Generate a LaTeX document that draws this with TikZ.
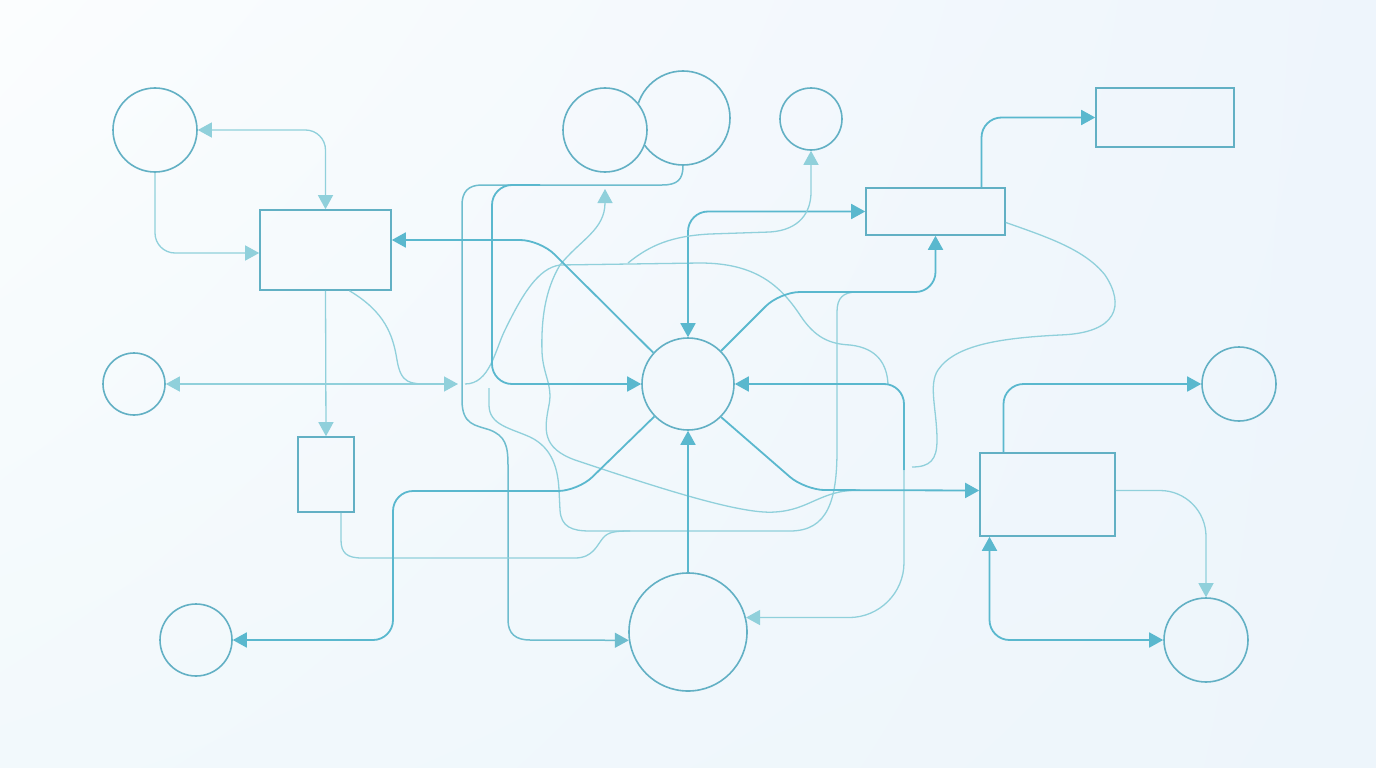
\documentclass[tikz,border=0pt]{standalone}
\usetikzlibrary{arrows.meta,shadings}
\definecolor{bgA}{RGB}{251,253,254}
\definecolor{bgB}{RGB}{238,245,252}
\definecolor{bgC}{RGB}{242,249,252}
\definecolor{bgD}{RGB}{237,245,251}
\definecolor{ringc}{RGB}{98,176,196}
\definecolor{darkc}{RGB}{90,184,206}
\definecolor{midc}{RGB}{110,189,206}
\definecolor{lightc}{RGB}{144,208,219}
\tikzset{>={Triangle[length=14pt,width=15pt]},
  ring/.style={circle,draw=ringc,line width=1.6pt,inner sep=0pt},
  box/.style={rectangle,draw=ringc,line width=1.6pt,inner sep=0pt},
  dk/.style={draw=darkc,line width=1.8pt},
  md/.style={draw=midc,line width=1.5pt},
  lt/.style={draw=lightc,line width=1.3pt}}
\begin{document}
\begin{tikzpicture}[x=1pt,y=-1pt]
\shade[upper left=bgA,upper right=bgB,lower left=bgC,lower right=bgD] (0,0) rectangle (1376,768);
\node[ring,minimum size=84pt] (a) at (155,130) {};
\node[ring,minimum size=84pt] (b) at (605,130) {};
\begin{scope}[even odd rule]
\clip (0,0) rectangle (1376,768) (605,130) circle[radius=43];
\node[ring,minimum size=94pt] (bb) at (683,118) {};
\end{scope}
\node[ring,minimum size=62pt] (c) at (811,119) {};
\node[ring,minimum size=62pt] (d) at (134,384) {};
\node[ring,minimum size=92pt] (hub) at (688,384) {};
\node[ring,minimum size=72pt] (e) at (196,640) {};
\node[ring,minimum size=118pt] (f) at (688,632) {};
\node[ring,minimum size=74pt] (g) at (1239,384) {};
\node[ring,minimum size=84pt] (h) at (1206,640) {};
\node[box,minimum width=131pt,minimum height=80pt] (r1) at (325.5,250) {};
\node[box,minimum width=56pt,minimum height=75pt] (r2) at (326,474.5) {};
\node[box,minimum width=139pt,minimum height=47pt] (r3) at (935.5,211.5) {};
\node[box,minimum width=138pt,minimum height=59pt] (r4) at (1165,117.5) {};
\node[box,minimum width=135pt,minimum height=83pt] (r5) at (1047.5,494.5) {};
\coordinate (j1) at (458,384);
\coordinate (j2) at (465,384);
\coordinate (x1) at (560,265);
\coordinate (x2) at (628,263);
\coordinate (t1) at (605,189);
\coordinate (k1) at (540,185);
\coordinate (s1) at (489,388);
\coordinate (q1) at (912,467);
\coordinate (q2) at (904,470);
\draw[lt,<->,rounded corners=20pt] (a.east) -| (r1.north);
\draw[lt,->,rounded corners=20pt] (a.south) |- ([yshift=-3pt]r1.west);
\draw[lt,->] (r1.south) -- (r2.north);
\draw[lt,<->] (d.east) -- (j1);
\draw[lt] ([xshift=24pt]r1.south) .. controls (385,312) and (393,335) .. (397,360) .. controls (401,384) and (410,384) .. (430,384);
\draw[lt] (j2) .. controls (490,384) and (495,350) .. (505,330) .. controls (522,295) and (538,268) .. (x1) -- (700,263) .. controls (755,263) and (780,285) .. (800,315) .. controls (815,338) and (830,344) .. (850,345) .. controls (878,348) and (887,365) .. (888,384);
\draw[lt,<-] (t1) .. controls (605,230) and (580,240) .. (x1) .. controls (545,290) and (541,320) .. (542,352) .. controls (543,375) and (553,385) .. (549,405) .. controls (544,430) and (542,448) .. (575,460) .. controls (650,485) and (740,515) .. (775,512) .. controls (810,510) and (820,490) .. (860,490);
\draw[md,->] (bb.south) .. controls (683,180) and (677,185) .. (662,185) -- (482,185) .. controls (468,185) and (462,192) .. (462,205) -- (462,400) .. controls (462,425) and (475,425) .. (490,430) .. controls (505,436) and (508,445) .. (508,465) -- (508,620) .. controls (508,634) and (516,640) .. (530,640) -- (f.188);
\draw[dk,->,rounded corners=20pt] (k1) -| (492,384) -- (hub.west);
\draw[lt] (s1) -- (489,405) .. controls (489,425) and (510,428) .. (530,437) .. controls (553,448) and (558,470) .. (559,490) -- (560,510) .. controls (561,527) and (572,531) .. (590,531) -- (790,531) .. controls (828,531) and (837,500) .. (837,450) -- (837,312) .. controls (837,298) and (843,292) .. (857,292);
\draw[lt] ([xshift=15pt]r2.south) -- (341,540) .. controls (341,553) and (347,558) .. (362,558) -- (575,558) .. controls (593,558) and (597,545) .. (603,538) .. controls (608,532) and (615,531) .. (630,531);
\draw[dk,->,rounded corners=20pt] (hub.138) -- (540,240) -- ([yshift=10pt]r1.east);
\draw[dk,<->,rounded corners=20pt] (r3.west) -| (hub.north);
\draw[lt,->] (x2) .. controls (650,245) and (672,236) .. (710,234) -- (770,232) .. controls (800,230) and (811,212) .. (811,192) -- (c.south);
\draw[dk,->,rounded corners=20pt] (hub.45) -- (780,292) -| (r3.south);
\draw[dk,->,rounded corners=20pt] ([xshift=46pt]r3.north) |- (r4.west);
\draw[lt] ([yshift=-11pt]r3.east) .. controls (1050,238) and (1085,250) .. (1105,275) .. controls (1125,305) and (1118,333) .. (1060,335) .. controls (1000,338) and (955,345) .. (938,370) .. controls (928,385) and (937,410) .. (937,440) .. controls (937,460) and (930,467) .. (q1);
\draw[dk,->,rounded corners=20pt] (q2) |- (hub.east);
\draw[lt,->,rounded corners=55pt] (q2) |- (f.14);
\draw[dk,->,rounded corners=20pt] (hub.315) -- (805,490) -- ([yshift=4pt]r5.west);
\draw[dk,->] (f.north) -- (hub.south);
\draw[dk,<-,rounded corners=20pt] (e.east) -| (393,491) -- (578,491) -- (hub.224);
\draw[dk,->,rounded corners=20pt] ([xshift=-44pt]r5.north) |- (g.west);
\draw[lt,->,rounded corners=46pt] ([yshift=4pt]r5.east) -| (h.north);
\draw[dk,<->,rounded corners=20pt] ([xshift=-58pt]r5.south) |- (h.west);
\end{tikzpicture}
\end{document}
